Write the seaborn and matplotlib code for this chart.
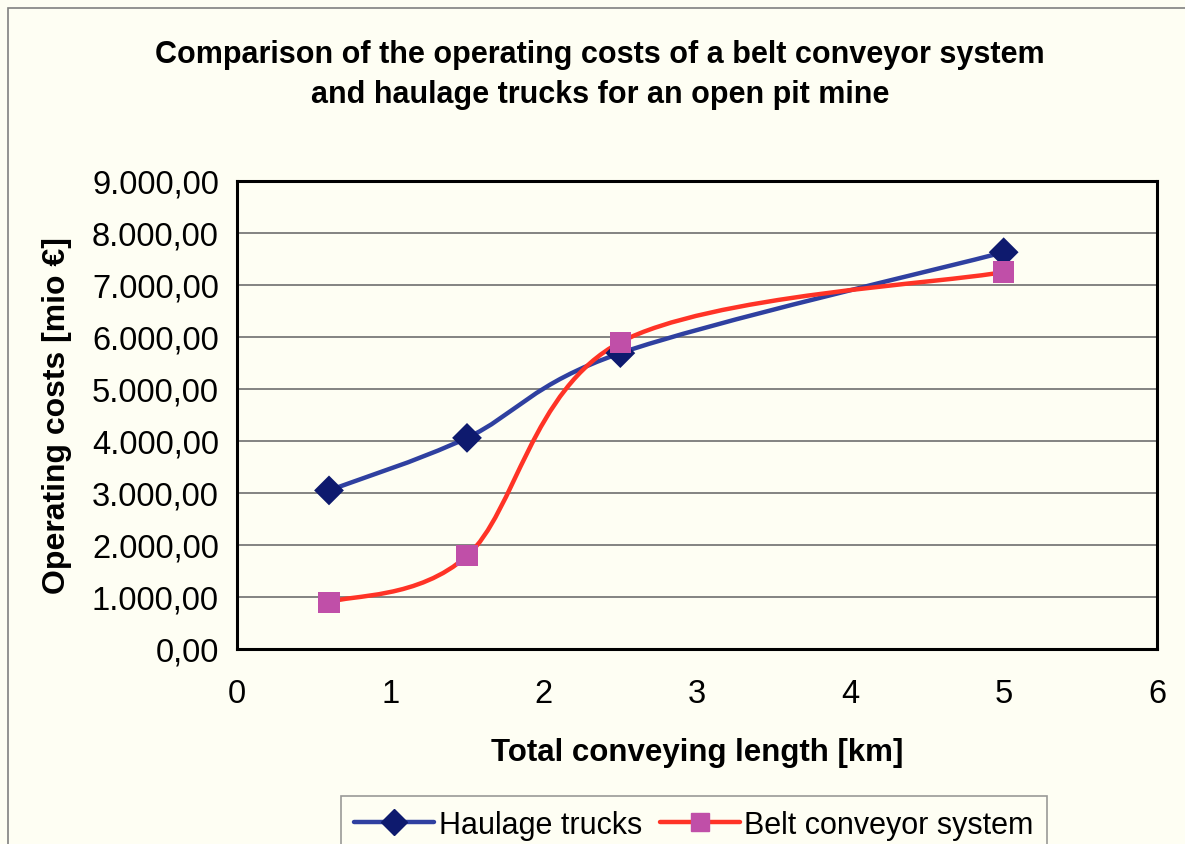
import numpy as np
import pandas as pd
import matplotlib
matplotlib.use("Agg")
import matplotlib.pyplot as plt
import seaborn as sns
from matplotlib.path import Path
from matplotlib.patches import PathPatch, Rectangle
from matplotlib.lines import Line2D
from matplotlib.ticker import FuncFormatter

# Data
length_km = [0.6, 1.5, 2.5, 5.0]
haulage_trucks = [3050, 4060, 5690, 7630]
belt_conveyor = [900, 1790, 5900, 7250]
series_names = ["Haulage trucks", "Belt conveyor system"]

BG = "#FEFEF3"
sns.set_theme(style="white")
plt.rcParams["font.family"] = ["Liberation Sans", "DejaVu Sans"]
plt.rcParams["text.color"] = "black"

fig = plt.figure(figsize=(11.85, 8.45), dpi=100, facecolor=BG)
ax = fig.add_axes([237 / 1185, 1 - 650 / 845, 920 / 1185, 468 / 845])
ax.set_facecolor(BG)

# outer chart frame
fig.patches.append(Rectangle((8 / 1185, -0.05), 1.2, 1 - 9 / 845 + 0.05, transform=fig.transFigure,
                             fill=False, edgecolor="#808080", linewidth=1.2, zorder=0))

df = pd.DataFrame({
    "x": length_km * 2,
    "y": haulage_trucks + belt_conveyor,
    "series": [series_names[0]] * 4 + [series_names[1]] * 4,
})

line_colors = ["#2F40A0", "#FF3326"]
marker_colors = ["#0E1A6E", "#C04FA8"]
markers = ["D", "s"]


def smooth_path(xs, ys):
    pts = np.column_stack([xs, ys]).astype(float)
    n = len(pts)
    verts = [pts[0]]
    codes = [Path.MOVETO]
    for i in range(n - 1):
        p0 = pts[i - 1] if i > 0 else pts[i]
        p1 = pts[i]
        p2 = pts[i + 1]
        p3 = pts[i + 2] if i + 2 < n else pts[i + 1]
        c1 = p1 + (p2 - p0) / 6.0
        c2 = p2 - (p3 - p1) / 6.0
        verts += [c1, c2, p2]
        codes += [Path.CURVE4] * 3
    return Path(verts, codes)


ax.set_xlim(0, 6)
ax.set_ylim(0, 9000)

for name, lc in zip(series_names, line_colors):
    sub = df[df.series == name]
    ax.add_patch(PathPatch(smooth_path(sub.x.values, sub.y.values), facecolor="none",
                           edgecolor=lc, linewidth=3.2, zorder=3))

sns.scatterplot(data=df, x="x", y="y", hue="series", style="series",
                palette=marker_colors, markers=markers, s=230, edgecolor="none",
                ax=ax, zorder=4, legend=False)

ax.set_xticks(range(0, 7))
ax.set_yticks(range(0, 9001, 1000))
ax.yaxis.set_major_formatter(FuncFormatter(
    lambda v, p: f"{v:,.2f}".replace(",", "X").replace(".", ",").replace("X", ".")))
ax.grid(axis="y", color="#6E6E6E", linewidth=1.2)
ax.grid(axis="x", visible=False)
for s in ax.spines.values():
    s.set_color("black")
    s.set_linewidth(2.2)
ax.tick_params(axis="both", which="major", length=7, width=1.2, color="#808080",
               labelsize=23.5, labelcolor="black", direction="out", pad=6)
ax.tick_params(axis="x", pad=14)

ax.set_xlabel("Total conveying length [km]", fontsize=22.5, fontweight="bold",
              labelpad=20, color="black")
ax.set_ylabel("Operating costs [mio €]", fontsize=23, fontweight="bold",
              labelpad=14, color="black")

fig.text(600 / 1185, 1 - 75 / 845,
         "Comparison of the operating costs of a belt conveyor system\nand haulage trucks for an open pit mine",
         ha="center", va="center", fontsize=22, fontweight="bold", linespacing=1.45,
         color="black")

handles = [Line2D([0], [0], color=lc, linewidth=3.2, marker=m, markersize=13,
                  markerfacecolor=mc, markeredgecolor=mc)
           for lc, mc, m in zip(line_colors, marker_colors, markers)]
leg = fig.legend(handles, series_names, loc="upper center",
                 bbox_to_anchor=(694 / 1185, 1 - 797 / 845), ncol=2, fontsize=22,
                 frameon=True, fancybox=False, edgecolor="#808080", facecolor=BG,
                 handlelength=2.6, handletextpad=0.15, columnspacing=0.6, borderpad=0.45,
                 borderaxespad=0)
leg.get_frame().set_linewidth(1.2)
for t in leg.get_texts():
    t.set_color("black")

fig.savefig("out.png", dpi=100, facecolor=BG)
